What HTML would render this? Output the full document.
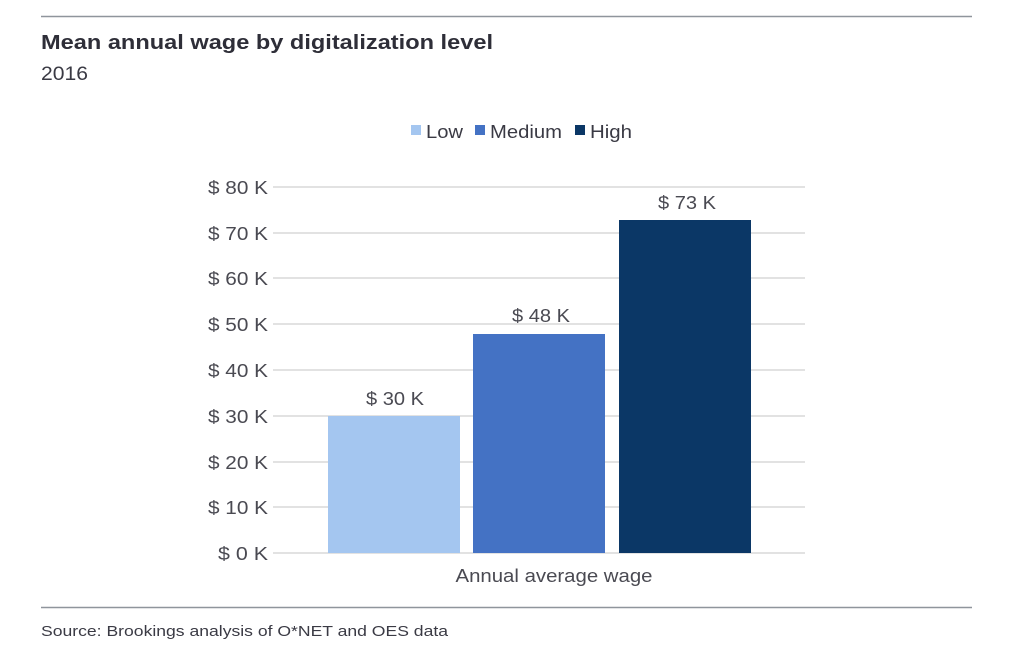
<!DOCTYPE html>
<html><head><style>
body{margin:0;background:#fff;width:1024px;height:648px;overflow:hidden;font-family:"Liberation Sans",sans-serif;}
</style></head><body>
<svg width="1024" height="648" xmlns="http://www.w3.org/2000/svg" font-family="Liberation Sans, sans-serif">
<line x1="41" y1="16.5" x2="972" y2="16.5" stroke="#8f959c" stroke-width="1.5"/>
<text x="41" y="49" font-size="20" font-weight="bold" fill="#2e2e38" textLength="452" lengthAdjust="spacingAndGlyphs">Mean annual wage by digitalization level</text>
<text x="41" y="80" font-size="19" fill="#3a3a44" textLength="47" lengthAdjust="spacingAndGlyphs">2016</text>
<rect x="411" y="125" width="10" height="10" fill="#a4c6f0"/>
<text x="426" y="138" font-size="18" fill="#3a3a44" textLength="37" lengthAdjust="spacingAndGlyphs">Low</text>
<rect x="475" y="125" width="10" height="10" fill="#4472c4"/>
<text x="490" y="138" font-size="18" fill="#3a3a44" textLength="72" lengthAdjust="spacingAndGlyphs">Medium</text>
<rect x="575" y="125" width="10" height="10" fill="#0b3766"/>
<text x="590" y="138" font-size="18" fill="#3a3a44" textLength="42" lengthAdjust="spacingAndGlyphs">High</text>
<g stroke="#d9d9d9" stroke-width="1.5">
<line x1="273" y1="187" x2="805" y2="187"/><line x1="273" y1="233" x2="805" y2="233"/>
<line x1="273" y1="278" x2="805" y2="278"/><line x1="273" y1="324" x2="805" y2="324"/>
<line x1="273" y1="370" x2="805" y2="370"/><line x1="273" y1="416" x2="805" y2="416"/>
<line x1="273" y1="462" x2="805" y2="462"/><line x1="273" y1="507" x2="805" y2="507"/>
<line x1="273" y1="553" x2="805" y2="553"/>
</g>
<g font-size="18" fill="#4a4a52" text-anchor="end">
<text x="268" y="194" textLength="60" lengthAdjust="spacingAndGlyphs">$ 80 K</text><text x="268" y="240" textLength="60" lengthAdjust="spacingAndGlyphs">$ 70 K</text>
<text x="268" y="285" textLength="60" lengthAdjust="spacingAndGlyphs">$ 60 K</text><text x="268" y="331" textLength="60" lengthAdjust="spacingAndGlyphs">$ 50 K</text>
<text x="268" y="377" textLength="60" lengthAdjust="spacingAndGlyphs">$ 40 K</text><text x="268" y="423" textLength="60" lengthAdjust="spacingAndGlyphs">$ 30 K</text>
<text x="268" y="469" textLength="60" lengthAdjust="spacingAndGlyphs">$ 20 K</text><text x="268" y="514" textLength="60" lengthAdjust="spacingAndGlyphs">$ 10 K</text>
<text x="268" y="560" textLength="50" lengthAdjust="spacingAndGlyphs">$ 0 K</text>
</g>
<rect x="328" y="416" width="132" height="137" fill="#a4c6f0"/>
<rect x="473" y="334" width="132" height="219" fill="#4472c4"/>
<rect x="619" y="220" width="132" height="333" fill="#0b3766"/>
<g font-size="18" fill="#4a4a52" text-anchor="middle">
<text x="395" y="405" textLength="58" lengthAdjust="spacingAndGlyphs">$ 30 K</text>
<text x="541" y="322" textLength="58" lengthAdjust="spacingAndGlyphs">$ 48 K</text>
<text x="687" y="209" textLength="58" lengthAdjust="spacingAndGlyphs">$ 73 K</text>
<text x="554" y="582" textLength="197" lengthAdjust="spacingAndGlyphs">Annual average wage</text>
</g>
<line x1="41" y1="607.5" x2="972" y2="607.5" stroke="#8f959c" stroke-width="1.5"/>
<text x="41" y="636" font-size="15" fill="#3a3a44" textLength="407" lengthAdjust="spacingAndGlyphs">Source: Brookings analysis of O*NET and OES data</text>
</svg>
</body></html>
